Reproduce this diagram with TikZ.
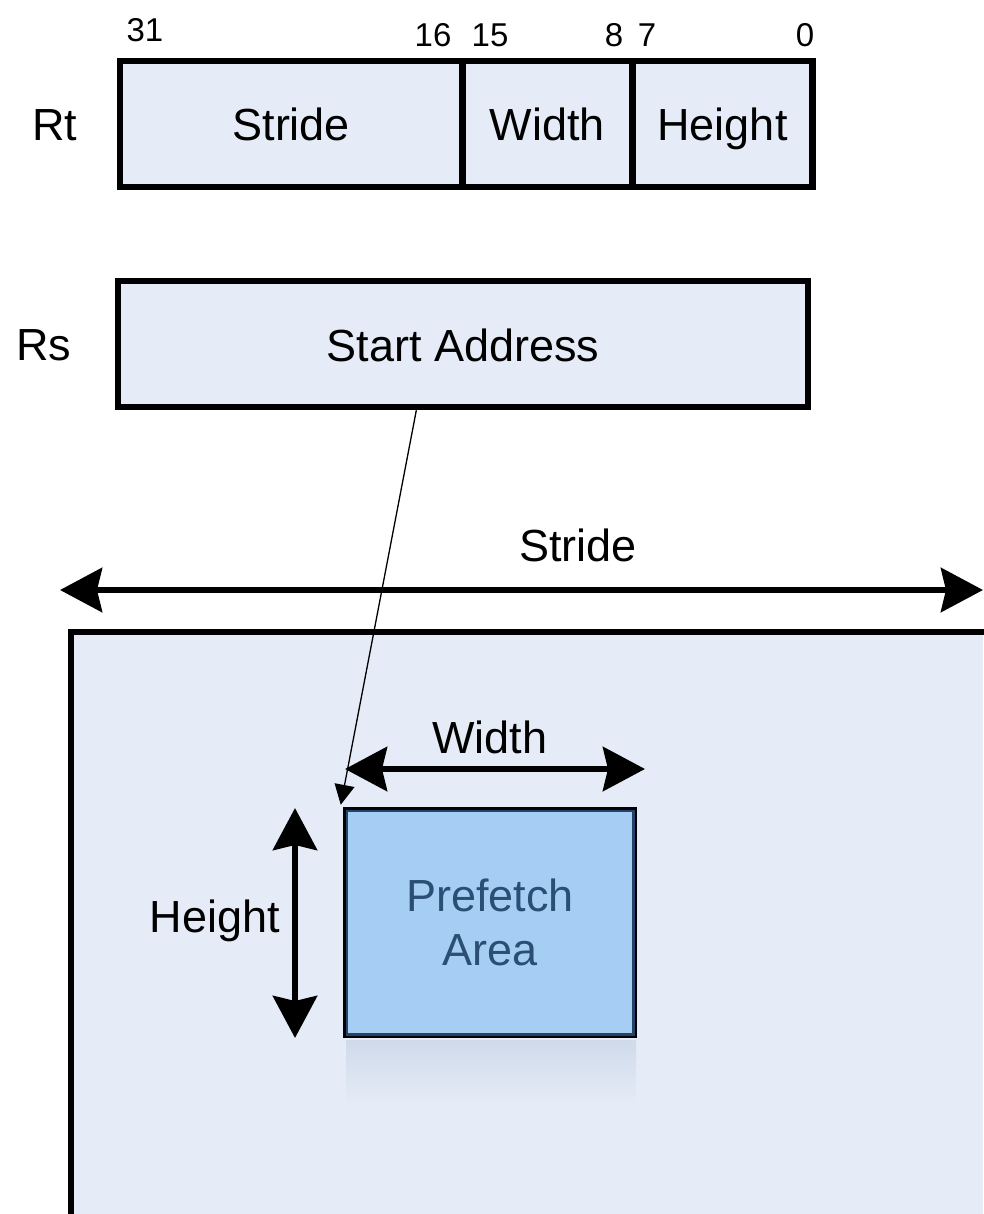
\documentclass[tikz,border=0pt]{standalone}
\usepackage{fontspec}
\setmainfont{Liberation Sans}
\usetikzlibrary{arrows.meta,calc}

\definecolor{paper}{HTML}{E6ECF7}
\definecolor{areafill}{HTML}{A6CEF5}
\definecolor{areaedge}{HTML}{22436A}
\definecolor{areatext}{HTML}{2B4E75}
\definecolor{glow}{HTML}{CFDAEA}

\begin{document}
\begin{tikzpicture}[x=1pt,y=-1pt,
  big/.style={font=\fontsize{45}{54}\selectfont},
  bitno/.style={font=\fontsize{33}{40}\selectfont, inner sep=0pt},
  field/.style={draw=black, line width=6.5pt, fill=paper, inner sep=0pt,
                minimum height=126pt, text height=38pt, text depth=4pt, big},
  dimarrow/.style={line width=6.5pt, {Stealth[length=42pt,width=44pt,inset=5pt]}-{Stealth[length=42pt,width=44pt,inset=5pt]}},
  pointer/.style={line width=1.3pt, -{Triangle[length=20pt,width=20pt]}},
]
\useasboundingbox (0,0) rectangle (983,1214);

% register Rt: three bit fields
\node[field, minimum width=342.5pt] (fstride) at (291.25,124) {Stride};
\node[field, minimum width=170pt]   (fwidth)  at (547.5,124)  {Width};
\node[field, minimum width=180pt]   (fheight) at (722.5,124)  {Height};
\node[big] (rt) at (55,125) {Rt};

% bit numbers
\node[bitno] (b31) at (145,30) {31};
\node[bitno] (b16) at (433,35) {16};
\node[bitno] (b15) at (490,35) {15};
\node[bitno] (b8)  at (614,35) {8};
\node[bitno] (b7)  at (647,35) {7};
\node[bitno] (b0)  at (805,35) {0};

% register Rs
\node[field, minimum width=690pt] (rs) at (463,344) {Start Address};
\node[big] (rslbl) at (44,345) {Rs};

% memory region
\fill[paper] (68,629) rectangle (983,1214);
\draw[line width=6.5pt, line cap=rect] (71,1220) -- (71,632) -- (990,632);

% reflection under the prefetch area
\shade[top color=glow, bottom color=paper] (346,1040) rectangle (636,1105);

% prefetch area
\node[draw=black, line width=5.5pt, fill=areafill, minimum width=289pt, minimum height=226pt,
      inner sep=0pt, align=center, big, text=areatext] (area) at (490,922.5)
      {Prefetch\\Area};
\draw[areaedge, line width=2.5pt] ($(area.south west)+(4,-4)$) rectangle ($(area.north east)+(-4,4)$);

% dimension arrows and labels
\coordinate (sl) at (60,590);
\coordinate (sr) at (983,590);
\draw[dimarrow] (sl) -- (sr);
\node[big] (stridelbl) at (578,545) {Stride};

\coordinate (wl) at (345,769);
\coordinate (wr) at (645,769);
\draw[dimarrow] (wl) -- (wr);
\node[big] (widthlbl) at (490,737) {Width};

\coordinate (ht) at (295,808);
\coordinate (hb) at (295,1038);
\draw[dimarrow] (ht) -- (hb);
\node[big] (heightlbl) at (215,921) {Height};

% start address points at the top-left corner of the area
\draw[pointer] ($(rs.south west)!0.433!(rs.south east)$) -- ($(area.north west)+(-2,-2)$);
\end{tikzpicture}
\end{document}
